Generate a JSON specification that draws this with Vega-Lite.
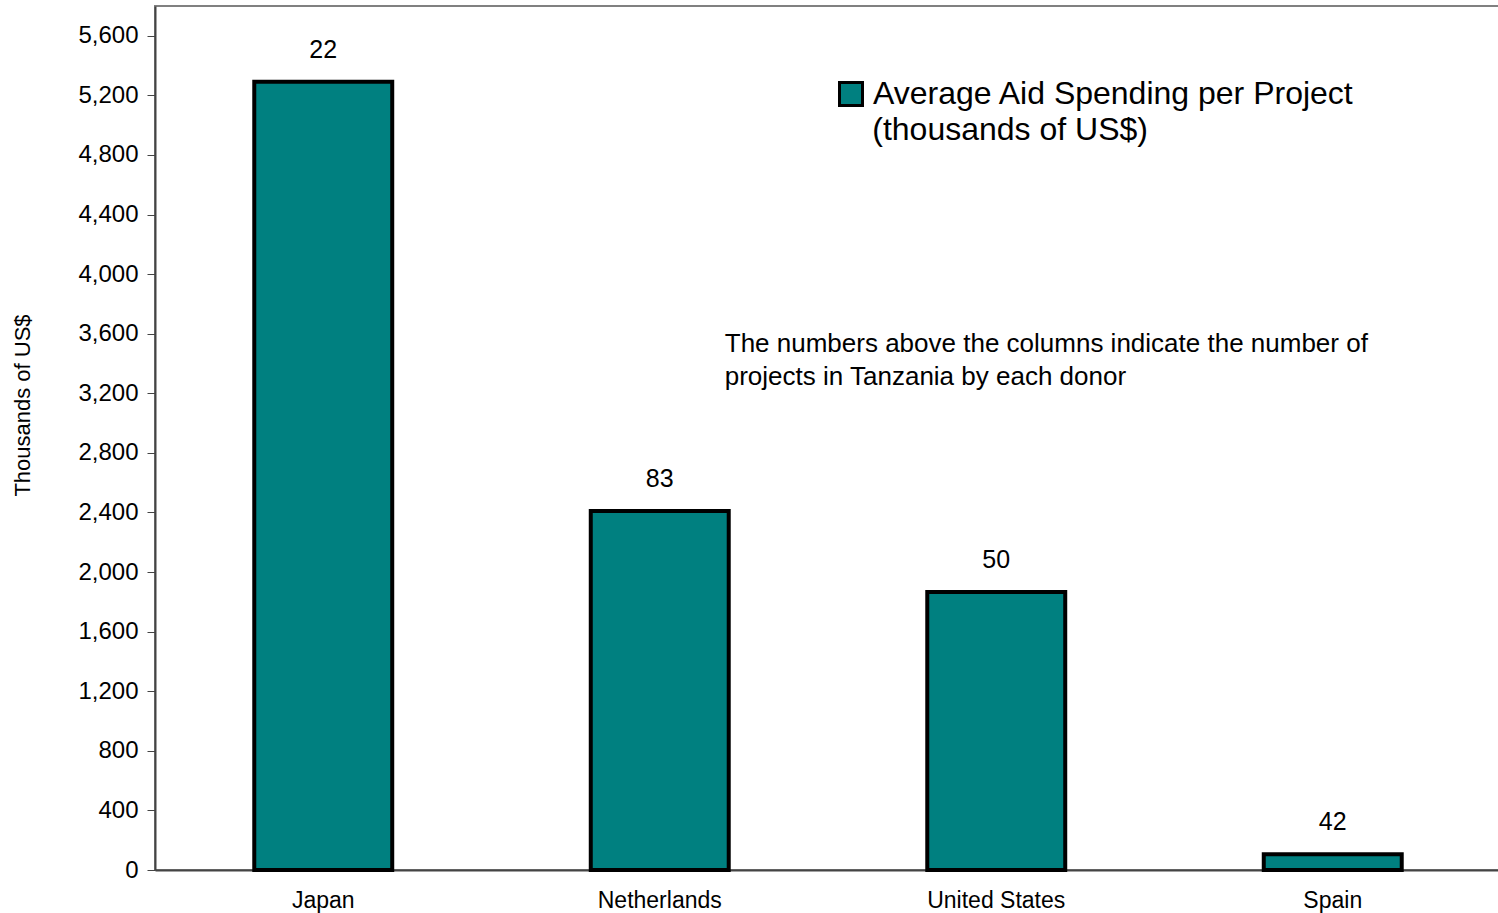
{
  "$schema": "https://vega.github.io/schema/vega-lite/v6.json",
  "autosize": "none",
  "width": 1346,
  "height": 864,
  "padding": {"left": 155, "top": 6, "right": 0, "bottom": 43},
  "background": "white",
  "config": {
    "font": "Liberation Sans",
    "view": {"stroke": "#808080", "strokeWidth": 2}
  },
  "datasets": {
    "bars": [
      {"donor": "Japan", "spending": 5291, "projects": 22},
      {"donor": "Netherlands", "spending": 2410, "projects": 83},
      {"donor": "United States", "spending": 1867, "projects": 50},
      {"donor": "Spain", "spending": 105, "projects": 42}
    ],
    "note": [
      {"donor": "Netherlands", "value": 3530, "text": ["The numbers above the columns indicate the number of", "projects in Tanzania by each donor"]}
    ],
    "legend2": [
      {"donor": "United States", "value": 4968, "text": "(thousands of US$)"}
    ]
  },
  "layer": [
    {
      "data": {"name": "bars"},
      "mark": {"type": "bar", "stroke": "black", "strokeWidth": 4},
      "encoding": {
        "x": {
          "field": "donor", "type": "nominal", "sort": null,
          "scale": {"paddingInner": 0.59, "paddingOuter": 0.295},
          "axis": {"title": null, "labelAngle": 0, "ticks": false, "labelPadding": 19, "labelFontSize": 23, "labelColor": "black", "domainColor": "#444", "domainWidth": 2}
        },
        "y": {
          "field": "spending", "type": "quantitative",
          "scale": {"domain": [0, 5800], "nice": false},
          "axis": {"title": "Thousands of US$", "values": [0,400,800,1200,1600,2000,2400,2800,3200,3600,4000,4400,4800,5200,5600], "format": ",d", "grid": false, "labelFontSize": 24, "labelColor": "black", "labelPadding": 9, "tickSize": 8, "tickColor": "#444", "domainColor": "#444", "domainWidth": 2, "titleFontSize": 22, "titleFontWeight": "normal", "titleColor": "black", "titleX": -133, "titleY": 399, "titleAngle": -90, "titleBaseline": "middle", "titleAlign": "center"}
        },
        "color": {
          "datum": "Average Aid Spending per Project",
          "type": "nominal",
          "scale": {"range": ["#008080"]},
          "legend": {"title": null, "orient": "none", "legendX": 680, "legendY": 72, "padding": 0, "symbolType": "square", "symbolSize": 529, "symbolStrokeColor": "black", "symbolStrokeWidth": 3, "symbolFillColor": "#008080", "labelFontSize": 32, "labelColor": "black", "labelLimit": 700, "labelOffset": 6, "labelBaseline": "middle"}
        }
      }
    },
    {
      "data": {"name": "bars"},
      "mark": {"type": "text", "baseline": "middle", "dy": -32, "fontSize": 25, "color": "black"},
      "encoding": {
        "x": {"field": "donor", "type": "nominal", "sort": null},
        "y": {"field": "spending", "type": "quantitative"},
        "text": {"field": "projects", "type": "quantitative"}
      }
    },
    {
      "data": {"name": "note"},
      "mark": {"type": "text", "align": "left", "baseline": "middle", "dx": 65, "fontSize": 26, "lineHeight": 33, "color": "black"},
      "encoding": {
        "x": {"field": "donor", "type": "nominal", "sort": null},
        "y": {"field": "value", "type": "quantitative"},
        "text": {"field": "text"}
      }
    },
    {
      "data": {"name": "legend2"},
      "mark": {"type": "text", "align": "left", "baseline": "middle", "dx": -124, "fontSize": 32, "color": "black"},
      "encoding": {
        "x": {"field": "donor", "type": "nominal", "sort": null},
        "y": {"field": "value", "type": "quantitative"},
        "text": {"field": "text"}
      }
    }
  ]
}
